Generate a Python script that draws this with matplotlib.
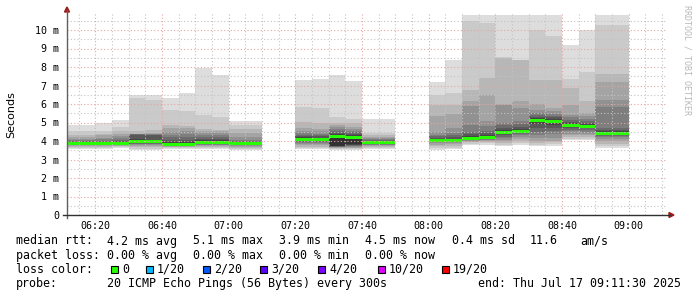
import matplotlib
matplotlib.use("Agg")
import matplotlib.pyplot as plt
from matplotlib.lines import Line2D
from matplotlib.patches import Polygon, Rectangle

W, H = 697, 297

# 5-minute slots (start time) with the 20 sorted ping rtts in ms, None = no data
slot_times = ["06:10", "06:15", "06:20", "06:25", "06:30", "06:35", "06:40", "06:45",
              "06:50", "06:55", "07:00", "07:05", "07:10", "07:15", "07:20", "07:25",
              "07:30", "07:35", "07:40", "07:45", "07:50", "07:55", "08:00", "08:05",
              "08:10", "08:15", "08:20", "08:25", "08:30", "08:35", "08:40", "08:45",
              "08:50", "08:55", "09:00", "09:05", "09:10"]

medians = [3.87, 3.87, 3.85, 3.88, 4.00, 3.97, 3.81, 3.82,
           3.93, 3.93, 3.85, 3.85, None, None, 4.09, 4.07,
           4.27, 4.20, 3.90, 3.90, None, None, 4.05, 4.05,
           4.13, 4.18, 4.45, 4.54, 5.10, 5.05, 4.85, 4.79,
           4.43, 4.43, None, None, None]

pings = [
    [3.55, 3.62, 3.68, 3.72, 3.76, 3.79, 3.81, 3.83, 3.85, 3.87, 3.89, 3.91, 3.94, 3.98, 4.03, 4.10, 4.20, 4.33, 4.52, 4.86],
    [3.55, 3.62, 3.68, 3.72, 3.76, 3.79, 3.81, 3.83, 3.85, 3.87, 3.89, 3.91, 3.94, 3.98, 4.03, 4.10, 4.20, 4.33, 4.52, 4.86],
    [3.58, 3.64, 3.69, 3.73, 3.76, 3.79, 3.81, 3.82, 3.83, 3.84, 3.86, 3.90, 3.96, 4.02, 4.10, 4.18, 4.30, 4.40, 4.52, 4.96],
    [3.62, 3.68, 3.72, 3.75, 3.78, 3.80, 3.82, 3.84, 3.86, 3.88, 3.90, 3.95, 4.02, 4.08, 4.15, 4.25, 4.40, 4.52, 4.78, 5.14],
    [3.50, 3.58, 3.68, 3.75, 3.78, 3.82, 3.86, 3.90, 3.94, 3.98, 4.02, 4.10, 4.35, 4.36, 4.37, 4.38, 4.40, 4.55, 6.31, 6.49],
    [3.50, 3.58, 3.68, 3.75, 3.78, 3.82, 3.86, 3.90, 3.93, 3.96, 3.99, 4.08, 4.32, 4.34, 4.36, 4.38, 4.42, 4.60, 6.22, 6.49],
    [3.55, 3.60, 3.65, 3.70, 3.73, 3.75, 3.77, 3.78, 3.79, 3.80, 3.82, 3.95, 4.05, 4.20, 4.35, 4.50, 4.68, 4.86, 5.68, 6.34],
    [3.55, 3.60, 3.65, 3.70, 3.73, 3.75, 3.77, 3.78, 3.80, 3.81, 3.83, 3.96, 4.06, 4.22, 4.37, 4.52, 4.68, 4.82, 5.62, 6.61],
    [3.58, 3.63, 3.68, 3.72, 3.76, 3.80, 3.84, 3.87, 3.90, 3.92, 3.95, 4.05, 4.12, 4.22, 4.33, 4.45, 4.55, 4.65, 5.41, 7.96],
    [3.58, 3.63, 3.68, 3.72, 3.76, 3.80, 3.84, 3.87, 3.90, 3.92, 3.95, 4.05, 4.12, 4.22, 4.32, 4.42, 4.52, 4.62, 5.30, 7.57],
    [3.52, 3.58, 3.64, 3.70, 3.74, 3.77, 3.80, 3.82, 3.84, 3.85, 3.87, 3.90, 3.95, 4.00, 4.05, 4.23, 4.41, 4.63, 4.86, 5.08],
    [3.52, 3.58, 3.64, 3.70, 3.74, 3.77, 3.80, 3.82, 3.84, 3.85, 3.87, 3.90, 3.95, 4.00, 4.05, 4.23, 4.41, 4.63, 4.86, 5.08],
    None,
    None,
    [3.55, 3.62, 3.70, 3.78, 3.85, 3.90, 3.95, 4.00, 4.04, 4.08, 4.10, 4.20, 4.28, 4.35, 4.41, 4.55, 4.68, 5.05, 5.86, 7.30],
    [3.55, 3.62, 3.70, 3.78, 3.85, 3.90, 3.95, 4.00, 4.03, 4.06, 4.08, 4.18, 4.26, 4.33, 4.40, 4.52, 4.65, 4.95, 5.80, 7.37],
    [3.50, 3.55, 3.60, 3.63, 3.66, 3.68, 3.70, 3.72, 3.73, 3.75, 4.35, 4.40, 4.45, 4.55, 4.65, 4.78, 4.88, 4.95, 5.32, 7.57],
    [3.50, 3.55, 3.60, 3.64, 3.68, 3.71, 3.74, 3.76, 3.78, 3.82, 4.25, 4.32, 4.38, 4.46, 4.55, 4.65, 4.78, 4.95, 5.17, 7.24],
    [3.55, 3.62, 3.68, 3.74, 3.78, 3.81, 3.84, 3.86, 3.88, 3.89, 3.91, 3.95, 3.99, 4.04, 4.10, 4.16, 4.22, 4.30, 4.41, 5.19],
    [3.55, 3.62, 3.68, 3.74, 3.78, 3.81, 3.84, 3.86, 3.88, 3.89, 3.91, 3.95, 3.99, 4.04, 4.10, 4.16, 4.22, 4.30, 4.41, 5.19],
    None,
    None,
    [3.53, 3.62, 3.72, 3.80, 3.88, 3.93, 3.97, 4.00, 4.02, 4.04, 4.07, 4.12, 4.18, 4.25, 4.35, 4.48, 5.33, 5.93, 6.51, 7.19],
    [3.55, 3.64, 3.74, 3.82, 3.88, 3.93, 3.97, 4.00, 4.02, 4.04, 4.07, 4.12, 4.20, 4.30, 4.45, 4.70, 5.46, 5.95, 6.60, 8.40],
    [3.78, 3.85, 3.92, 3.96, 4.00, 4.04, 4.07, 4.09, 4.11, 4.12, 4.15, 4.25, 4.38, 4.48, 4.84, 5.87, 6.14, 6.78, 10.50, 11.50],
    [3.80, 3.88, 3.95, 4.00, 4.04, 4.08, 4.11, 4.14, 4.16, 4.17, 4.20, 4.30, 4.42, 4.55, 4.80, 5.06, 6.47, 7.40, 10.40, 11.50],
    [3.72, 3.80, 3.88, 4.00, 4.07, 4.15, 4.22, 4.30, 4.36, 4.42, 4.50, 4.60, 4.72, 4.85, 4.97, 5.95, 5.98, 8.50, 8.55, 11.50],
    [3.78, 3.88, 3.98, 4.10, 4.22, 4.32, 4.40, 4.45, 4.49, 4.52, 4.56, 4.65, 4.78, 4.92, 5.06, 5.80, 6.18, 8.38, 8.40, 11.50],
    [3.72, 3.80, 3.90, 4.00, 4.15, 4.35, 4.50, 4.70, 4.90, 5.02, 5.18, 5.25, 5.32, 5.40, 5.50, 5.70, 6.00, 7.30, 10.00, 11.50],
    [3.75, 3.82, 3.92, 4.02, 4.18, 4.38, 4.55, 4.72, 4.88, 5.00, 5.12, 5.20, 5.28, 5.36, 5.45, 5.62, 5.78, 7.30, 9.66, 11.50],
    [4.07, 4.12, 4.20, 4.30, 4.40, 4.52, 4.62, 4.72, 4.78, 4.83, 4.88, 4.96, 5.05, 5.15, 5.28, 5.42, 5.96, 6.86, 7.34, 9.20],
    [4.07, 4.12, 4.20, 4.30, 4.40, 4.50, 4.60, 4.68, 4.74, 4.78, 4.82, 4.90, 4.98, 5.08, 5.20, 5.35, 5.50, 6.14, 7.73, 10.02],
    [3.64, 3.72, 3.85, 3.98, 4.10, 4.20, 4.28, 4.34, 4.38, 4.41, 4.46, 4.55, 4.62, 4.70, 5.84, 6.20, 7.20, 7.62, 10.27, 11.50],
    [3.64, 3.72, 3.85, 3.98, 4.10, 4.20, 4.28, 4.34, 4.38, 4.41, 4.46, 4.55, 4.62, 4.70, 5.84, 6.20, 7.20, 7.62, 10.27, 11.50],
    None,
    None,
    None,
]

x_tick_labels = ["06:20", "06:40", "07:00", "07:20", "07:40", "08:00", "08:20", "08:40", "09:00"]
y_tick_values = [0, 1, 2, 3, 4, 5, 6, 7, 8, 9, 10]

legend_rtt = ["median rtt:", "4.2 ms avg", "5.1 ms max", "3.9 ms min", "4.5 ms now", "0.4 ms sd", "11.6", "am/s"]
legend_loss = ["packet loss:", "0.00 % avg", "0.00 % max", "0.00 % min", "0.00 % now"]
loss_labels = ["0", "1/20", "2/20", "3/20", "4/20", "10/20", "19/20"]
loss_colors = ["#26ff00", "#00b8ff", "#0059ff", "#5e00ff", "#7e00ff", "#dd00ff", "#ff0000"]
probe_text = "20 ICMP Echo Pings (56 Bytes) every 300s"
end_text = "end: Thu Jul 17 09:11:30 2025"


def to_min(s):
    h, m = s.split(":")
    return int(h) * 60 + int(m)


def fx(x):
    return x / W


def fy(y):
    return 1 - y / H


t_start = to_min("06:11") + 0.5
t_end = to_min("09:11") + 0.5
y_top = 200 / 18.5

fig = plt.figure(figsize=(W / 100, H / 100), dpi=100)
fig.patch.set_facecolor("white")
ax = fig.add_axes([fx(67), fy(215), 600 / W, 200 / H])
ax.set_xlim(t_start, t_end)
ax.set_ylim(0, y_top)
for sp in ax.spines.values():
    sp.set_visible(False)

# smoke: 10 nested layers, lighter outside, darker inside
for i, p in enumerate(pings):
    if p is None:
        continue
    x0 = to_min(slot_times[i])
    for k in range(10):
        g = 19 * (9 - k) + 50
        col = "#%02x%02x%02x" % (g, g, g)
        ax.bar(x0, p[19 - k] - p[k], bottom=p[k], width=5, align="edge",
               color=col, linewidth=0, zorder=2 + k)

# median band coloured by loss (all 0 loss -> green)
band = 3 / 18.5
for i, m in enumerate(medians):
    if m is None:
        continue
    ax.bar(to_min(slot_times[i]), band, bottom=m - band / 2, width=5, align="edge",
           color=loss_colors[0], linewidth=0, zorder=20)

# grid over the data
dot = (0, (1, 2))
for t in range(to_min("06:15"), int(t_end), 5):
    major = (t % 20 == 0)
    ax.plot([t, t], [0, y_top + 0.1], color="#e6a4a4" if major else "#c4c4c4",
            lw=0.8, ls=dot, zorder=30, clip_on=False)
for j in range(1, 22):
    v = j * 0.5
    major = (j % 2 == 0)
    ax.plot([t_start, t_end], [v, v], color="#e6a4a4" if major else "#c4c4c4",
            lw=0.8, ls=dot, zorder=30)

ax.set_xticks([to_min(s) for s in x_tick_labels])
ax.set_xticklabels(x_tick_labels, family="DejaVu Sans Mono", fontsize=7.2)
ax.set_yticks(y_tick_values)
ax.set_yticklabels(["0"] + ["%d m" % v for v in y_tick_values[1:]],
                   family="DejaVu Sans Mono", fontsize=7.2)
ax.tick_params(axis="x", length=0, pad=4)
ax.tick_params(axis="y", length=0, pad=5.5)
ax.set_ylabel("Seconds", fontsize=8, labelpad=14)

# axes with arrows
fig.add_artist(Line2D([fx(67), fx(67)], [fy(218), fy(10)], color="#606060", lw=1))
fig.add_artist(Line2D([fx(63), fx(670)], [fy(215), fy(215)], color="#303030", lw=1))
fig.add_artist(Polygon([(fx(64.5), fy(12)), (fx(69.5), fy(12)), (fx(67), fy(7))],
                       closed=True, color="#a01818"))
fig.add_artist(Polygon([(fx(669), fy(212.5)), (fx(669), fy(217.5)), (fx(674), fy(215))],
                       closed=True, color="#a01818"))

fig.text(fx(687), fy(60), "RRDTOOL / TOBI OETIKER", rotation=-90, ha="center", va="center",
         family="DejaVu Sans Mono", fontsize=6, color="#b8b8b8")

# legend block
mono = dict(family="DejaVu Sans Mono", fontsize=8.35, va="center", ha="left", color="black")
rtt_x = [16, 107, 193, 279, 365, 452, 530, 580]
for s, x in zip(legend_rtt, rtt_x):
    fig.text(fx(x), fy(241), s, **mono)
for s, x in zip(legend_loss, rtt_x):
    fig.text(fx(x), fy(255.5), s, **mono)
fig.text(fx(16), fy(269.5), "loss color:", **mono)
box_x = [111, 146, 203, 260, 318, 378, 442]
for s, c, x in zip(loss_labels, loss_colors, box_x):
    fig.add_artist(Rectangle((fx(x), fy(273)), 7 / W, 7 / H, facecolor=c,
                             edgecolor="black", lw=0.8))
    fig.text(fx(x + 11), fy(269.5), s, **mono)
fig.text(fx(16), fy(283.5), "probe:", **mono)
fig.text(fx(107), fy(283.5), probe_text, **mono)
fig.text(fx(478), fy(283.5), end_text, **mono)

fig.savefig("out.png", dpi=100, facecolor="white")
